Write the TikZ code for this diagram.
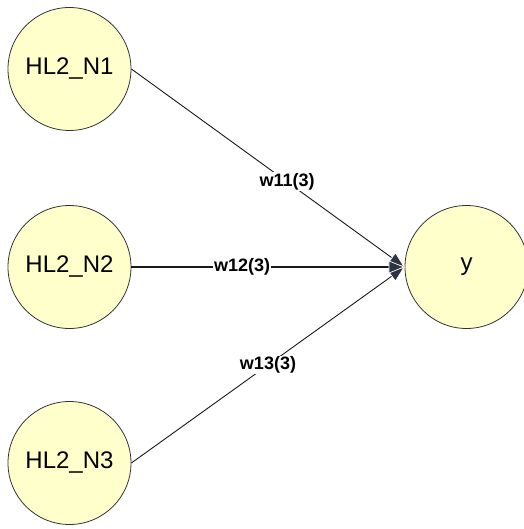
\documentclass[tikz,border=0pt]{standalone}
\usepackage{fontspec}
\setmainfont{Liberation Sans}
\usetikzlibrary{arrows.meta}
\definecolor{nodefill}{RGB}{255,255,204}
\definecolor{edgecol}{RGB}{25,25,25}
\definecolor{tipcol}{RGB}{45,52,64}
\begin{document}
\begin{tikzpicture}[x=1pt,y=1pt,
  neuron/.style={circle,draw=black!80,fill=nodefill,line width=0.8pt,minimum size=123pt,inner sep=0pt,font=\fontsize{24}{28}\selectfont},
  wedge/.style={draw=edgecol,line width=0.9pt,-{Triangle[length=16pt,width=13pt,color=white,fill=tipcol,line width=0.7pt]}},
  wlabel/.style={fill=white,inner sep=1pt,font=\bfseries\fontsize{18}{20}\selectfont}]
\useasboundingbox (0,0) rectangle (523,529);
\node[neuron] (n1) at (69.5,460) {HL2\_N1};
\node[neuron] (n2) at (69.5,262) {HL2\_N2};
\node[neuron] (n3) at (69.5,66) {HL2\_N3};
\node[neuron] (y) at (466.5,262) {y};
\draw[wedge] (n1.east) -- node[wlabel,pos=0.57] (l1) {w11(3)} (y.west);
\draw[wedge] (n3.east) -- node[wlabel,pos=0.5] (l3) {w13(3)} (y.west);
\draw[wedge,line width=1.3pt] (n2.east) -- node[wlabel,pos=0.405] (l2) {w12(3)} (y.west);
\end{tikzpicture}
\end{document}
